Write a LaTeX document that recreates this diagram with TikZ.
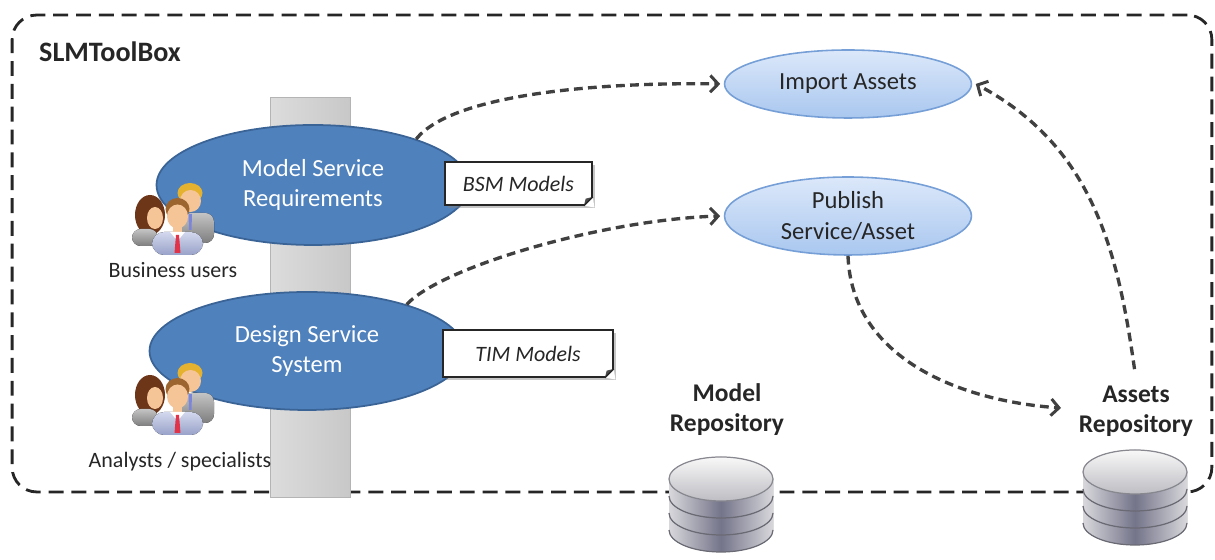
\documentclass[tikz,border=0pt]{standalone}
\usepackage{fontspec}
\setmainfont{Carlito}
\usetikzlibrary{arrows.meta,shapes.geometric,shadows}

\definecolor{framecol}{HTML}{262626}
\definecolor{flowcol}{HTML}{404040}
\definecolor{darkfill}{HTML}{4F81BD}
\definecolor{darkline}{HTML}{3A6396}
\definecolor{lighttop}{HTML}{DCE8FA}
\definecolor{lightbot}{HTML}{A9C7EF}
\definecolor{lightline}{HTML}{759FD6}
\definecolor{barleft}{HTML}{DCDCDC}
\definecolor{barright}{HTML}{C8C8C8}
\definecolor{skin}{HTML}{F6C597}
\definecolor{womanhair}{HTML}{6E3618}
\definecolor{manhair}{HTML}{9C6530}
\definecolor{blondhair}{HTML}{E4B22E}
\definecolor{suitgrayA}{HTML}{C4C4C4}
\definecolor{suitgrayB}{HTML}{7E7E7E}
\definecolor{suitblueA}{HTML}{D3D8EE}
\definecolor{suitblueB}{HTML}{98A2C8}
\definecolor{tiered}{HTML}{E0344A}
\definecolor{tieblue}{HTML}{7C86D8}
\definecolor{dbside}{HTML}{D8D8DC}
\definecolor{dbmid}{HTML}{74748A}
\definecolor{dbgroove}{HTML}{6A6A74}
\definecolor{dbtop}{HTML}{F8F8F8}
\definecolor{dbtopbot}{HTML}{BDBDC3}
\definecolor{txt}{HTML}{262626}

\tikzset{
  toolbox/.style={draw=framecol, line width=1.6pt, dash pattern=on 8.5pt off 4.5pt,
    rounded corners=14pt, minimum width=24cm, minimum height=9.54cm, inner sep=0pt},
  darkuse/.style={ellipse, fill=darkfill, draw=darkline, line width=1pt, inner sep=0pt,
    text=white, align=center, font=\fontsize{14}{17}\selectfont},
  lightuse/.style={ellipse, top color=lighttop, bottom color=lightbot, draw=lightline,
    line width=0.9pt, inner sep=0pt, text=txt, align=center,
    font=\fontsize{14}{17.5}\selectfont},
  modelnote/.style={rectangle, fill=white, draw=black!85, line width=0.8pt,
    drop shadow={shadow xshift=1.6pt, shadow yshift=-1.6pt, opacity=0.45},
    inner sep=0pt, font=\fontsize{12.5}{15}\selectfont\itshape, text=black!85},
  rolelabel/.style={text=txt, font=\fontsize{12.5}{15}\selectfont},
  repolabel/.style={text=txt, align=center, font=\fontsize{14.5}{17}\selectfont\bfseries},
  flow/.style={draw=flowcol, line width=1.9pt, dash pattern=on 5pt off 3pt,
    -{Straight Barb[length=4.5pt,width=9.5pt,line width=1.7pt]}},
  people/.pic={
    % man at the back, right
    \fill[top color=suitgrayA, bottom color=suitgrayB, rounded corners=5pt]
      (9,-25) -- (9,5) -- (41,5) -- (41,-25) -- cycle;
    \fill[tieblue] (15.5,4) -- (19,4) -- (18.5,-12) -- (16,-12) -- cycle;
    \fill[blondhair] (17,25) ellipse [x radius=12.5, y radius=10];
    \fill[skin] (17.5,17) ellipse [x radius=10.5, y radius=11];
    % woman at the back, left
    \fill[womanhair] (-23,3) ellipse [x radius=15, y radius=20];
    \fill[top color=suitgrayA, bottom color=suitgrayB, rounded corners=5pt]
      (-41,-28) -- (-41,-11) -- (-15,-11) -- (-15,-28) -- cycle;
    \fill[skin] (-18,0) ellipse [x radius=8, y radius=11];
    % man in front
    \fill[top color=suitblueA, bottom color=suitblueB, rounded corners=7pt]
      (-21,-37) -- (-21,-14) -- (30,-14) -- (30,-37) -- cycle;
    \fill[skin] (0,-17) rectangle (9,-8);
    \fill[white] (-3,-14) -- (12,-14) -- (4.5,-23) -- cycle;
    \fill[tiered] (3,-17) -- (6,-17) -- (7.5,-35) -- (1.5,-35) -- cycle;
    \fill[manhair] (4.5,9) ellipse [x radius=12, y radius=11];
    \fill[skin] (4.5,1.5) ellipse [x radius=10.5, y radius=12];
  },
  dbicon/.pic={
    \foreach \i in {3,2,1}{
      \fill[left color=dbside, right color=dbside, middle color=dbmid]
        (-52,{-(\i-1)*17}) -- (-52,{-\i*17})
        arc [start angle=180, end angle=360, x radius=52, y radius=22]
        -- (52,{-(\i-1)*17}) -- cycle;
      \draw[dbgroove, line width=0.7pt] (-52,{-\i*17})
        arc [start angle=180, end angle=360, x radius=52, y radius=22];
    }
    \fill[top color=dbtop, bottom color=dbtopbot] (0,0) ellipse [x radius=52, y radius=22];
    \draw[dbgroove!80, line width=0.7pt] (0,0) ellipse [x radius=52, y radius=22];
  }
}

\begin{document}
\begin{tikzpicture}[x=0.02cm, y=0.02cm]
\useasboundingbox (0,0) rectangle (1215,560);

% tool box frame and title
\node[toolbox] (box) at (612,306.5) {};
\node[anchor=west, font=\fontsize{16}{19}\selectfont\bfseries, text=txt] (title) at (33,508) {SLMToolBox};

% vertical band behind the modelling use cases
\node[rectangle, left color=barleft, right color=barright, draw=barright!90!black,
  line width=0.4pt, minimum width=1.6cm, minimum height=8cm, inner sep=0pt] (bar) at (310,263) {};

% modelling use cases
\node[darkuse, minimum width=6.26cm, minimum height=2.4cm] (msr) at (313,375)
  {Model Service\\Requirements};
\node[darkuse, minimum width=6.3cm, minimum height=2.36cm] (dss) at (307,209)
  {Design Service\\System};

% actors
\pic at (173,342) {people};
\node[rolelabel] (bu) at (173,290) {Business users};
\pic at (173,162) {people};
\node[rolelabel] (an) at (180,98) {Analysts / specialists};

% produced models
\node[modelnote, minimum width=2.94cm, minimum height=0.86cm] (bsm) at (518.5,376.5) {BSM Models};
\node[modelnote, minimum width=3.4cm, minimum height=0.94cm] (tim) at (528,206.5) {TIM Models};
\foreach \n in {bsm,tim}{
  \fill[white] ([xshift=-5pt]\n.south east) -- ([xshift=1pt,yshift=-1pt]\n.south east)
    -- ([yshift=5pt]\n.south east) -- cycle;
  \fill[black!70] ([xshift=-5pt]\n.south east) -- ([yshift=5pt]\n.south east)
    -- ([xshift=-4pt,yshift=4pt]\n.south east) -- cycle;
  \draw[black!85, line width=0.8pt] ([xshift=-5pt]\n.south east) -- ([yshift=5pt]\n.south east);
}

% repository use cases
\node[lightuse, minimum width=4.94cm, minimum height=1.36cm] (imp) at (848,476) {Import Assets};
\node[lightuse, minimum width=4.94cm, minimum height=1.56cm] (pub) at (848,344) {Publish\\Service/Asset};

% repositories
\node[repolabel] (mrep) at (727,150) {Model\\Repository};
\pic at (721,81) {dbicon};
\node[repolabel] (arep) at (1136,149) {Assets\\Repository};
\pic at (1135,88) {dbicon};
\coordinate (arepin) at (1061,152);

% flows
\draw[flow] (msr.24) .. controls (452,466) and (600,478) .. ([xshift=-2pt]imp.west);
\draw[flow] (dss.25) .. controls (440,292) and (600,340) .. ([xshift=-2pt]pub.west);
\draw[flow] (pub.south) to[out=-88, in=176] (arepin);
\draw[flow, shorten <=6pt] (arep.north) to[out=98, in=-28] ([xshift=2pt]imp.east);
\end{tikzpicture}
\end{document}
